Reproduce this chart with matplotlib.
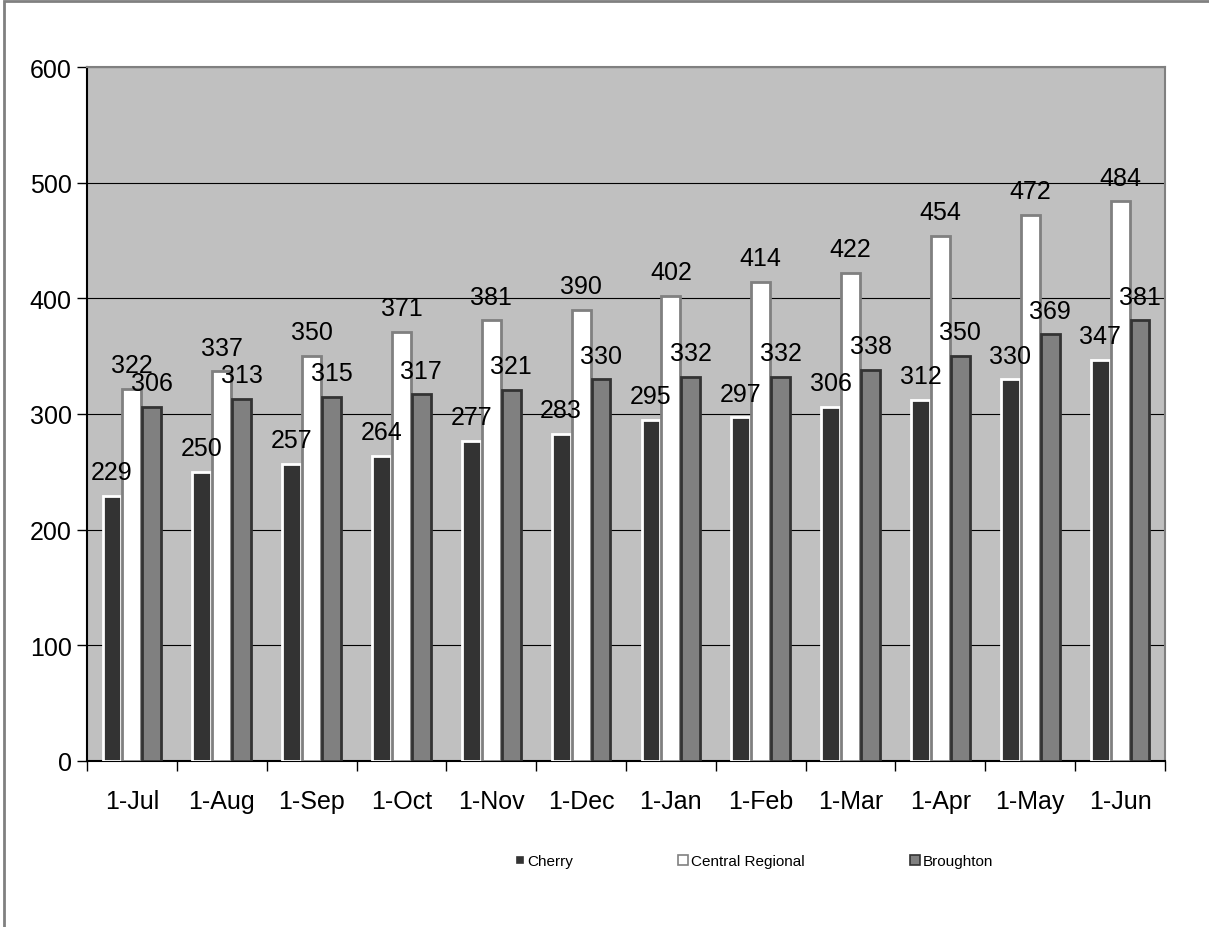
import numpy as np
import matplotlib.pyplot as plt
from matplotlib.lines import Line2D
from matplotlib.patches import Rectangle

plt.rcParams['font.family'] = ['Liberation Sans', 'DejaVu Sans']

months = ['1-Jul', '1-Aug', '1-Sep', '1-Oct', '1-Nov', '1-Dec',
          '1-Jan', '1-Feb', '1-Mar', '1-Apr', '1-May', '1-Jun']
cherry = [229, 250, 257, 264, 277, 283, 295, 297, 306, 312, 330, 347]
central = [322, 337, 350, 371, 381, 390, 402, 414, 422, 454, 472, 484]
broughton = [306, 313, 315, 317, 321, 330, 332, 332, 338, 350, 369, 381]

fig = plt.figure(figsize=(12.09, 9.28), dpi=100)
ax = fig.add_axes([87/1209, 1-762/928, (1165-87)/1209, (762-68)/928])
ax.set_facecolor('#C0C0C0')

# figure border (only left and top visible)
fig.patches.append(Rectangle((4/1209, -0.05), 1.2, 1.05-1.5/928, transform=fig.transFigure,
                             fill=False, edgecolor='#808080', linewidth=2))

x = np.arange(len(months))
w = 0.21
step = 0.222
series = [(cherry, '#333333', 'white', 'Cherry'),
          (central, 'white', '#808080', 'Central Regional'),
          (broughton, '#808080', '#333333', 'Broughton')]
for i, (vals, fc, ec, name) in enumerate(series):
    pos = x + (i - 1) * step
    ax.bar(pos, vals, width=w, color=fc, edgecolor=ec, linewidth=2, zorder=3)
    for p, v in zip(pos, vals):
        ax.annotate(str(v), (p, v), xytext=(0, 12), textcoords='offset points',
                    ha='center', va='baseline', fontsize=18, zorder=5)

ax.set_xlim(-0.5, len(months) - 0.5)
ax.set_ylim(0, 600)
ax.set_yticks(range(0, 601, 100))
ax.yaxis.grid(True, color='black', linewidth=0.8, zorder=1)
ax.set_axisbelow(True)
ax.set_xticks(x)
ax.set_xticklabels(months)
ax.set_xticks(np.arange(-0.5, len(months)), minor=True)
ax.tick_params(axis='x', which='major', length=0, pad=20, labelsize=18)
ax.tick_params(axis='x', which='minor', length=7, width=1, color='black')
ax.tick_params(axis='y', length=7, width=1, pad=4, labelsize=18)
ax.spines['left'].set_color('black')
ax.spines['bottom'].set_color('black')
ax.spines['top'].set_color('#808080')
ax.spines['right'].set_color('#808080')
for s in ax.spines.values():
    s.set_linewidth(1.5)

sizes = [4.5, 7, 7]
handles = [Line2D([], [], linestyle='none', marker='s', markersize=ms,
                  markerfacecolor=fc, markeredgecolor=ec if fc != '#333333' else fc,
                  markeredgewidth=1.2, label=name)
           for (_, fc, ec, name), ms in zip(series, sizes)]
fig.legend(handles=handles, loc='center', bbox_to_anchor=(754/1209, 1-862/928),
           ncol=3, frameon=False, fontsize=11, handlelength=0.6,
           handletextpad=0.2, columnspacing=6.9)

fig.savefig('out.png', dpi=100)
